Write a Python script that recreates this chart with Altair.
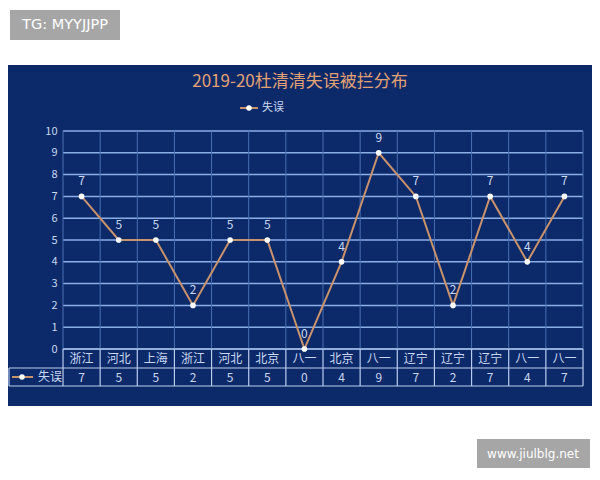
import altair as alt
import pandas as pd

# ---- data ----
categories = ["浙江", "河北", "上海", "浙江", "河北", "北京", "八一", "北京", "八一", "辽宁", "辽宁", "辽宁", "八一", "八一"]
values = [7, 5, 5, 2, 5, 5, 0, 4, 9, 7, 2, 7, 4, 7]
y_ticks = list(range(0, 11))
series_name = "失误"
title_text = "2019-20杜清清失误被拦分布"

n = len(categories)
df = pd.DataFrame({"pos": [i + 0.5 for i in range(n)], "cat": categories, "value": values})
bounds = pd.DataFrame({"b": list(range(n + 1))})
grid_y = pd.DataFrame({"v": y_ticks})
one = pd.DataFrame({"a": [0]})

W, H = 520, 218
FONT = "Noto Sans CJK SC"
NAVY = "#0c2a69"
LINE = "#c8926c"
TXT = "#c9d8f2"
GRIDH = "#8aaee6"
GRIDV = "#4a70b4"
TABLE = "#b9cdee"

xs = alt.Scale(domain=[0, n], nice=False, zero=False)
ys = alt.Scale(domain=[0, 10], nice=False, zero=False)
yaxis = alt.Axis(values=y_ticks, grid=False, domain=False, ticks=False, labelColor=TXT,
                 labelFontSize=11, labelFont=FONT, labelPadding=6, title=None, zindex=1)

base1 = alt.Chart(one)

panel = base1.mark_rect(color=NAVY).encode(
    x=alt.value(-61), x2=alt.value(532), y=alt.value(-66), y2=alt.value(275))

wm1 = base1.mark_rect(color="#a6a6a6").encode(
    x=alt.value(-53), x2=alt.value(57), y=alt.value(-121), y2=alt.value(-91))
wm1t = base1.mark_text(text="TG: MYYJJPP", color="white", font="DejaVu Sans", fontSize=14.5,
                       align="center", baseline="middle").encode(x=alt.value(2), y=alt.value(-106))
wm2 = base1.mark_rect(color="#a6a6a6").encode(
    x=alt.value(414), x2=alt.value(527), y=alt.value(308), y2=alt.value(337))
wm2t = base1.mark_text(text="www.jiulblg.net", color="white", font="DejaVu Sans", fontSize=12,
                       align="center", baseline="middle").encode(x=alt.value(470), y=alt.value(322.5))

title = base1.mark_text(text=title_text, color="#e2a274", font=FONT, fontSize=17,
                        align="center", baseline="middle").encode(x=alt.value(237), y=alt.value(-49))

# legend
leg_line = base1.mark_rule(color=LINE, strokeWidth=2).encode(
    x=alt.value(177), x2=alt.value(195), y=alt.value(-23))
leg_pt = base1.mark_point(filled=True, color="white", size=30, opacity=1).encode(
    x=alt.value(186), y=alt.value(-23))
leg_txt = base1.mark_text(text=series_name, color=TXT, font=FONT, fontSize=11,
                          align="left", baseline="middle").encode(x=alt.value(199), y=alt.value(-23))

# grid lines
hgrid = alt.Chart(grid_y).mark_rule(color=GRIDH, strokeWidth=1.5).encode(
    x=alt.value(0), x2=alt.value(W), y=alt.Y("v:Q", scale=ys, axis=yaxis))
vgrid = alt.Chart(bounds).mark_rule(color=GRIDV, strokeWidth=1).encode(
    x=alt.X("b:Q", scale=xs, axis=None), y=alt.value(0), y2=alt.value(H))

# data table
ROW1, ROW2, ROW3 = 218, 237, 255
tv = alt.Chart(bounds).mark_rule(color=TABLE, strokeWidth=1.2).encode(
    x=alt.X("b:Q", scale=xs, axis=None), y=alt.value(ROW1), y2=alt.value(ROW3))
th1 = base1.mark_rule(color=TABLE, strokeWidth=1.2).encode(x=alt.value(0), x2=alt.value(W), y=alt.value(ROW1))
th2 = base1.mark_rule(color=TABLE, strokeWidth=1.2).encode(x=alt.value(-54), x2=alt.value(W), y=alt.value(ROW2))
th3 = base1.mark_rule(color=TABLE, strokeWidth=1.2).encode(x=alt.value(-54), x2=alt.value(W), y=alt.value(ROW3))
tl = base1.mark_rule(color=TABLE, strokeWidth=1.2).encode(x=alt.value(-54), y=alt.value(ROW2), y2=alt.value(ROW3))
t_leg_line = base1.mark_rule(color=LINE, strokeWidth=2).encode(
    x=alt.value(-51), x2=alt.value(-30), y=alt.value(246))
t_leg_pt = base1.mark_point(filled=True, color="white", size=30, opacity=1).encode(
    x=alt.value(-41), y=alt.value(246))
t_leg_txt = base1.mark_text(text=series_name, color=TXT, font=FONT, fontSize=12,
                            align="left", baseline="middle").encode(x=alt.value(-25), y=alt.value(246))

cat_txt = alt.Chart(df).mark_text(color=TXT, font=FONT, fontSize=12, baseline="middle").encode(
    x=alt.X("pos:Q", scale=xs, axis=None), y=alt.value((ROW1 + ROW2) / 2), text="cat:N")
val_txt = alt.Chart(df).mark_text(color=TXT, font=FONT, fontSize=12, baseline="middle").encode(
    x=alt.X("pos:Q", scale=xs, axis=None), y=alt.value((ROW2 + ROW3) / 2 + 0.5), text="value:Q")

# series
line = alt.Chart(df).mark_line(color=LINE, strokeWidth=2).encode(
    x=alt.X("pos:Q", scale=xs, axis=None), y=alt.Y("value:Q", scale=ys, axis=yaxis))
pts = alt.Chart(df).mark_point(filled=True, color="white", size=32, opacity=1).encode(
    x=alt.X("pos:Q", scale=xs, axis=None), y=alt.Y("value:Q", scale=ys, axis=yaxis))
labels = alt.Chart(df).mark_text(color=TXT, font=FONT, fontSize=12, dy=-15, baseline="middle").encode(
    x=alt.X("pos:Q", scale=xs, axis=None), y=alt.Y("value:Q", scale=ys, axis=yaxis), text="value:Q")

chart = alt.layer(
    panel, wm1, wm1t, wm2, wm2t, title, leg_line, leg_pt, leg_txt,
    hgrid, vgrid, tv, th1, th2, th3, tl, t_leg_line, t_leg_pt, t_leg_txt,
    cat_txt, val_txt, line, pts, labels
).properties(
    width=W, height=H,
    autosize=alt.AutoSizeParams(type="none"),
    padding={"left": 55, "top": 123, "right": 9, "bottom": 119},
    background="white",
).configure_view(stroke=None, clip=False)

chart.save("out.html", embed_options={"renderer": "svg", "actions": False})
